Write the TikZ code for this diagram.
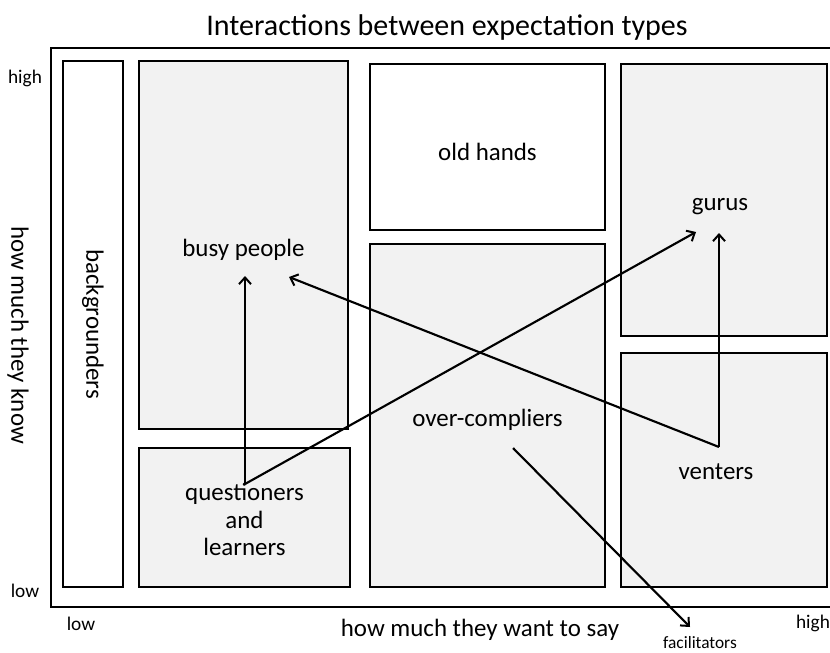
\documentclass[tikz,border=0pt]{standalone}
\usepackage{fontspec}
\setmainfont{Carlito}
\usetikzlibrary{arrows.meta}

\definecolor{typegray}{HTML}{F2F2F2}

\tikzset{
  typebox/.style={draw, line width=1.1pt, fill=typegray, inner sep=0pt},
  openbox/.style={typebox, fill=white},
  typename/.style={align=center, inner sep=0pt, font=\fontsize{18.7}{20.6}\selectfont},
  typemove/.style={-{Straight Barb[length=5pt,width=9pt,line width=1.5pt]}, line width=1.6pt},
  scalelabel/.style={font=\fontsize{14.5}{16}\selectfont},
  axislabel/.style={font=\fontsize{18.7}{21}\selectfont}
}

\begin{document}
\begin{tikzpicture}[x=0.75pt,y=-0.75pt]
			\useasboundingbox (0,0) rectangle (830,652);
			\clip (0,0) rectangle (830,652);

			\node [font=\fontsize{22.5}{25}\selectfont] (title) at (447,28) {Interactions between expectation types};
			\draw [line width=1.1pt] (51,48) rectangle (845,607);

			% the seven expectation types
			\node [openbox, minimum width=45pt, minimum height=394.5pt,
				label={[typename, rotate=-90]center:backgrounders}] (backgrounders) at (93,324) {};
			\node [typebox, minimum width=156.75pt, minimum height=276pt,
				label={[typename, yshift=-3.5pt]center:busy people}] (busy) at (243.5,245) {};
			\node [typebox, minimum width=158.25pt, minimum height=104.25pt,
				label={[typename, yshift=-1.5pt]center:questioners\\and\\learners}] (questioners) at (244.5,517.5) {};
			\node [openbox, minimum width=176.25pt, minimum height=124.5pt,
				label={[typename, yshift=-3.5pt]center:old hands}] (oldhands) at (487.5,147) {};
			\node [typebox, minimum width=176.25pt, minimum height=257.25pt,
				label={[typename, yshift=-3pt]center:over-compliers}] (overcompliers) at (487.5,415.5) {};
			\node [typebox, minimum width=154.5pt, minimum height=204pt,
				label={[typename, xshift=-3pt, yshift=-5pt]center:gurus}] (gurus) at (724,200) {};
			\node [typebox, minimum width=154.5pt, minimum height=175.5pt,
				label={[typename, xshift=-6pt, yshift=-1pt]center:venters}] (venters) at (724,470) {};

			% axes
			\node [axislabel, rotate=-90] (know) at (18,335) {how much they know};
			\node [scalelabel] (knowhigh) at (25,78) {high};
			\node [scalelabel] (knowlow) at (25,591) {low};
			\node [axislabel] (say) at (480,630) {how much they want to say};
			\node [scalelabel] (saylow) at (81,624) {low};
			\node [scalelabel] (sayhigh) at (813,623) {high};
			\node [font=\fontsize{13}{15}\selectfont] (facilitators) at (700,643) {facilitators};

			% moves between types
			\coordinate (qstart) at (245,484);
			\coordinate (vstart) at (719,447);
			\coordinate (ostart) at (513,448);
			\coordinate (busytip) at (245,276);
			\coordinate (busyside) at (289,277);
			\coordinate (gurutip) at (696,232);
			\coordinate (gurubase) at (719,233);
			\coordinate (factip) at (690,627);

			\draw [typemove] (qstart) -- (busytip);
			\draw [typemove] (qstart) -- (gurutip);
			\draw [typemove] (vstart) -- (gurubase);
			\draw [typemove] (vstart) -- (busyside);
			\draw [typemove] (ostart) -- (factip);
		\end{tikzpicture}
\end{document}
